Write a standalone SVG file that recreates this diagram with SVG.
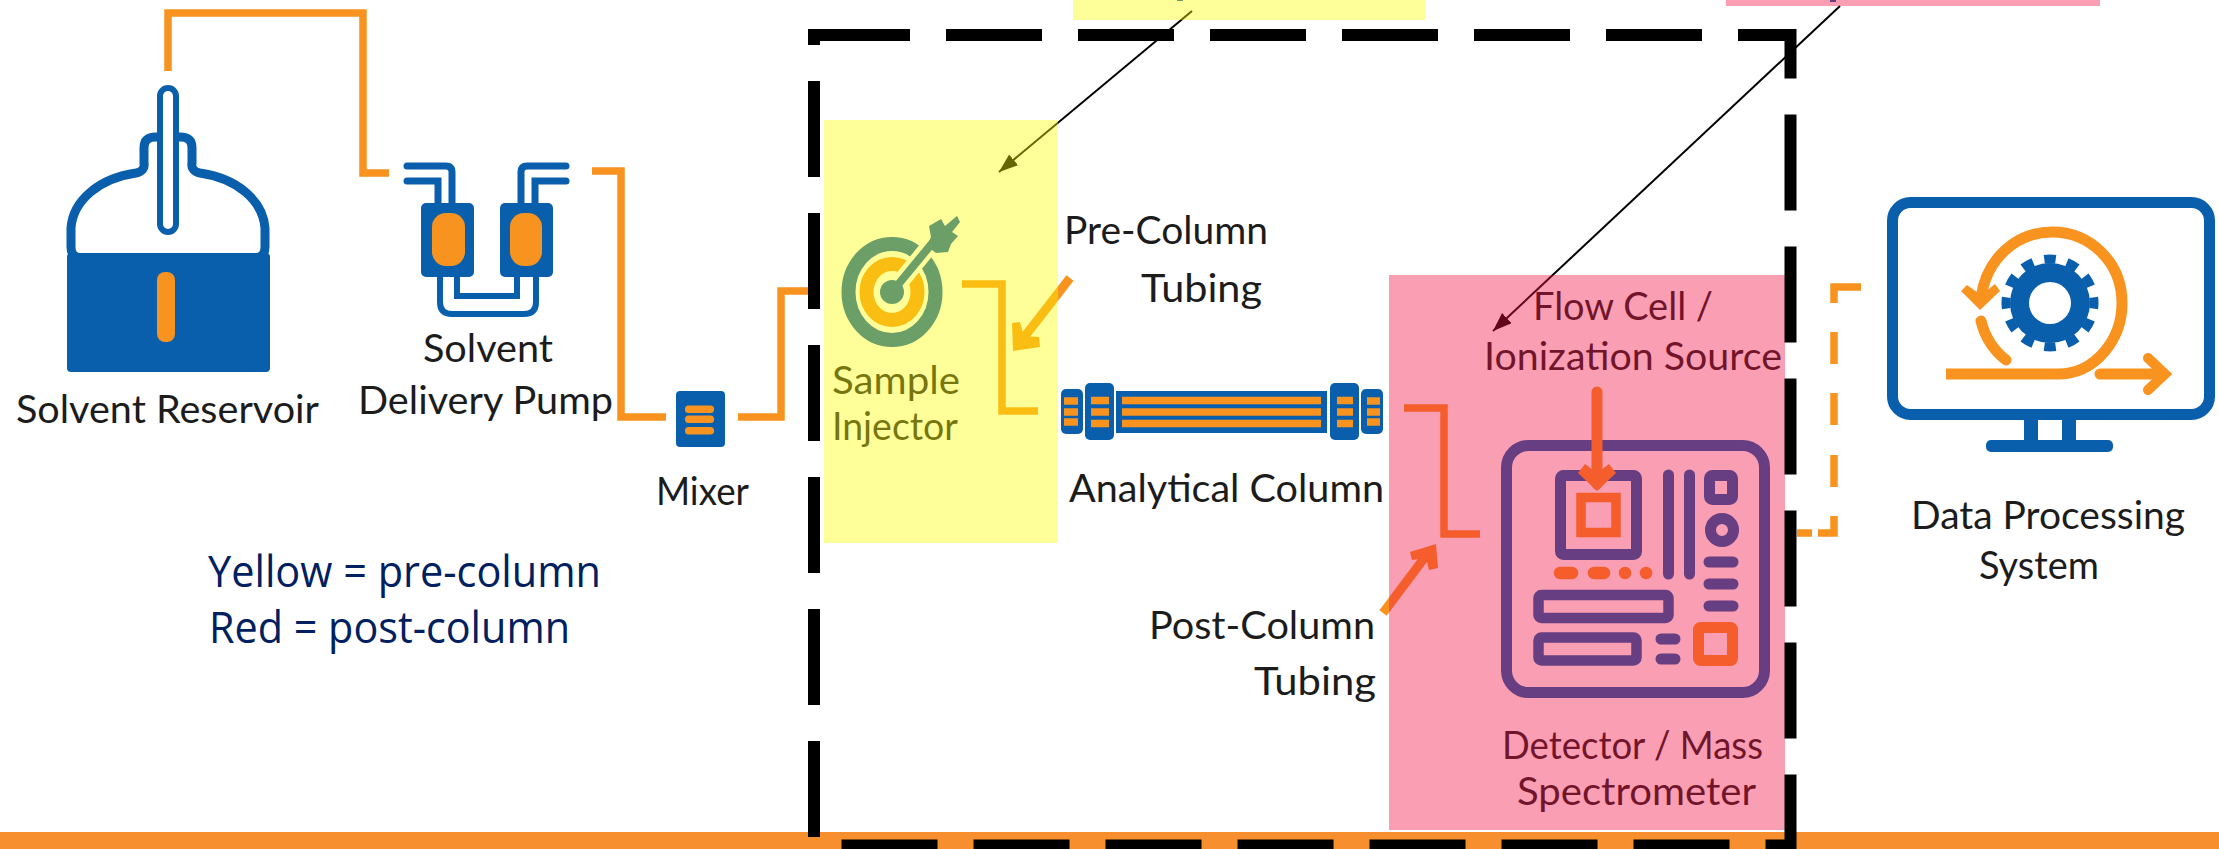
<svg xmlns="http://www.w3.org/2000/svg" width="2219" height="849" viewBox="0 0 2219 849">
<defs>
<style>
text{font-family:"Lato","Open Sans","Liberation Sans",sans-serif;font-size:38px;fill:#1c1c1c}
.legend{font-family:"Open Sans","Liberation Sans",sans-serif;font-size:43px;fill:#002060}
.tube{fill:none;stroke:#f7931e;stroke-width:7.5;stroke-linejoin:miter}
.blue{fill:#0a5fad}
.org{fill:#f7931e}
.bl{fill:none;stroke:#0a5fad}
.ol{fill:none;stroke:#f7931e}
.ptr{stroke:#000;stroke-width:2;fill:none;marker-end:url(#ah)}
</style>
<marker id="ah" markerUnits="userSpaceOnUse" markerWidth="20" markerHeight="16" refX="19" refY="7" orient="auto"><path d="M0 0L19 7L0 14Z" fill="#000"/></marker>
</defs>
<rect width="2219" height="849" fill="#fff"/>
<rect id="orange-band" x="0" y="832" width="2219" height="17" fill="#f78f2e"/>

<g id="reservoir">
<path d="M71 247V228C73 200 100 178 136 173C142 172 145 168 144 163V148C144 140 148 137 156 137H180C188 137 192 140 192 148V163C191 168 194 172 200 173C236 178 263 200 265 228V247Q265 258 254 258H82Q71 258 71 247Z" fill="#fff" stroke="#0a5fad" stroke-width="9"/>
<rect class="blue" x="67" y="253" width="203" height="119" rx="4"/>
<rect x="160" y="88" width="16" height="144" rx="8" fill="#fff" stroke="#0a5fad" stroke-width="6"/>
<rect class="org" x="157" y="272" width="18" height="70" rx="8"/>
<text x="16" y="423" textLength="303" lengthAdjust="spacingAndGlyphs">Solvent Reservoir</text>
</g>

<g id="pump">
<path class="bl" stroke-width="7" stroke-linecap="round" d="M407 166H446Q452 166 452 172V205M407 181H438V205M566 166H527Q521 166 521 172V205M566 181H535V205"/>
<path class="bl" stroke-width="6" d="M457 275V296H517V275M440 275V302Q440 314 452 314H524Q536 314 536 302V275"/>
<rect class="blue" x="421" y="203" width="53" height="74" rx="5"/>
<rect class="blue" x="500" y="203" width="53" height="74" rx="5"/>
<rect class="org" x="432" y="213" width="33" height="53" rx="14"/>
<rect class="org" x="510" y="213" width="32" height="53" rx="14"/>
<text x="423" y="362" textLength="130" lengthAdjust="spacingAndGlyphs">Solvent</text>
<text x="358" y="414" textLength="255" lengthAdjust="spacingAndGlyphs">Delivery Pump</text>
</g>

<g id="mixer">
<rect class="blue" x="676" y="391" width="49" height="56" rx="4"/>
<rect class="org" x="685" y="405.500" width="29" height="7.500" rx="3.500"/>
<rect class="org" x="685" y="415.500" width="29" height="7.500" rx="3.500"/>
<rect class="org" x="685" y="427" width="29" height="7.500" rx="3.500"/>
<text x="656" y="505" textLength="93" lengthAdjust="spacingAndGlyphs">Mixer</text>
</g>

<g id="injector">
<ellipse class="bl" cx="892" cy="292" rx="43.500" ry="48" stroke-width="14"/>
<ellipse class="ol" cx="892" cy="292" rx="25.500" ry="28" stroke-width="14"/>
<path d="M892 292L932 243" stroke="#fff" stroke-width="17" fill="none"/>
<circle class="blue" cx="892" cy="292" r="12"/>
<path class="bl" stroke-width="8" d="M892 292L934 241"/>
<path class="blue" d="M929 226L941 219L945 226L957 216L960 222L952 232L958 236L951 244L948 252L936 253L927 246L931 237Z"/>
<text x="832" y="394" textLength="128" lengthAdjust="spacingAndGlyphs">Sample</text>
<text x="832" y="440" textLength="126" lengthAdjust="spacingAndGlyphs">Injector</text>
</g>

<g id="column">
<rect class="blue" x="1061" y="389" width="22" height="45" rx="5"/>
<rect class="blue" x="1085" y="383" width="29" height="57" rx="5"/>
<rect class="blue" x="1116" y="391" width="211" height="42"/>
<rect class="blue" x="1330" y="383" width="29" height="57" rx="5"/>
<rect class="blue" x="1361" y="389" width="22" height="45" rx="5"/>
<path class="ol" stroke-width="7.500" d="M1122 400.500H1321M1122 412H1321M1122 423.500H1321M1091 400.500H1109M1091 412H1109M1091 423.500H1109M1337 400.500H1353M1337 412H1353M1337 423.500H1353M1064 401H1078M1064 412H1078M1064 422H1078M1367 401H1380M1367 412H1380M1367 422H1380"/>
<text x="1069" y="502" textLength="315" lengthAdjust="spacingAndGlyphs">Analytical Column</text>
</g>

<g id="detector">
<rect class="bl" x="1506.500" y="445.500" width="258" height="247" rx="22" stroke-width="11"/>
<rect class="bl" x="1560.500" y="475.500" width="76" height="79" rx="3" stroke-width="11"/>
<rect class="ol" x="1581" y="497.500" width="35" height="35" stroke-width="9.500"/>
<path class="bl" stroke-width="11" stroke-linecap="round" d="M1668.500 475V574M1689.500 475V574M1709 562H1733M1709 584H1733M1709 606H1733M1661 639H1675M1661 659H1675"/>
<rect class="bl" x="1709.500" y="475.500" width="23" height="24" rx="3" stroke-width="11"/>
<circle class="bl" cx="1722" cy="530" r="11.500" stroke-width="11"/>
<path class="ol" stroke-width="12.500" stroke-linecap="round" d="M1560 573H1572M1594 573H1604M1625 573H1625.100M1646 573H1646.100"/>
<rect class="bl" x="1538.500" y="595" width="130" height="23" rx="3" stroke-width="10.500"/>
<rect class="bl" x="1538.500" y="637.500" width="98" height="23" rx="3" stroke-width="10.500"/>
<rect class="ol" x="1698.500" y="627.500" width="34" height="33" rx="2" stroke-width="11"/>
<text x="1502" y="759" textLength="261" lengthAdjust="spacingAndGlyphs">Detector / Mass</text>
<text x="1517" y="805" textLength="239" lengthAdjust="spacingAndGlyphs">Spectrometer</text>
<text x="1533" y="320" textLength="180" lengthAdjust="spacingAndGlyphs">Flow Cell /</text>
<text x="1484" y="370" textLength="298" lengthAdjust="spacingAndGlyphs">Ionization Source</text>
<path class="ol" stroke-width="11" stroke-linecap="round" d="M1597 392V484"/>
<path class="org" d="M1597 491L1578 473L1585 464L1597 473L1609 464L1616 473Z"/>
</g>

<g id="data-system">
<rect class="bl" x="1892.500" y="202.500" width="317" height="212" rx="18" stroke-width="11"/>
<rect class="blue" x="2024" y="418" width="14" height="26"/>
<rect class="blue" x="2062" y="418" width="14" height="26"/>
<rect class="blue" x="1986" y="440" width="127" height="12" rx="5"/>
<circle class="blue" cx="2050" cy="303" r="40"/>
<circle class="bl" cx="2050" cy="303" r="44" stroke-width="9" pathLength="24" stroke-dasharray="1 1" stroke-dashoffset="0.5"/>
<circle cx="2050" cy="303" r="21" fill="#fff"/>
<path class="ol" stroke-width="11" d="M1946 374H2058C2095 374 2122 340 2122 303C2122 262 2090 232 2052 232C2015 232 1986 260 1981 298"/>
<path class="org" d="M1980 310L1961 291L1967 285L1981 295L1995 284L2000 291Z"/>
<path class="ol" stroke-width="11" stroke-linecap="round" d="M1981 321C1985 337 1993 350 2006 360M2100 374H2164"/>
<path class="ol" stroke-width="10" stroke-linecap="round" stroke-linejoin="miter" d="M2148 358L2165 374L2148 390"/>
<text x="1911" y="529" textLength="274" lengthAdjust="spacingAndGlyphs">Data Processing</text>
<text x="1979" y="579" textLength="120" lengthAdjust="spacingAndGlyphs">System</text>
</g>

<g id="legend">
<text class="legend" x="208" y="587" textLength="393" lengthAdjust="spacingAndGlyphs">Yellow = pre-column</text>
<text class="legend" x="209" y="643" textLength="361" lengthAdjust="spacingAndGlyphs">Red = post-column</text>
</g>

<g id="tubing-labels">
<text x="1064" y="244" textLength="204" lengthAdjust="spacingAndGlyphs">Pre-Column</text>
<text x="1141" y="302" textLength="121" lengthAdjust="spacingAndGlyphs">Tubing</text>
<text x="1149" y="639" textLength="226" lengthAdjust="spacingAndGlyphs">Post-Column</text>
<text x="1254" y="695" textLength="122" lengthAdjust="spacingAndGlyphs">Tubing</text>
</g>

<g id="connectors">
<path class="tube" d="M168 71V13H363V173H389"/>
<path class="tube" d="M592 171H621V417H666"/>
<path class="tube" d="M738 417H781V291H808"/>
<path class="tube" d="M962 284H1002V411H1038"/>
<path class="tube" d="M1404 408H1444V534H1480"/>
<path class="tube" d="M1861 287H1834V303M1834 332V364M1834 393V425M1834 455V487M1834 516V533H1818M1812 533H1797"/>
<path class="ol" stroke-width="9" d="M1070 278L1022 340"/>
<path class="org" d="M1013 351L1012 323L1020 322L1024 336L1039 337L1040 347Z"/>
<path class="ol" stroke-width="9" d="M1383 613L1428 553"/>
<path class="org" d="M1436 544L1438 568L1429 570L1426 558L1412 560L1410 552Z"/>
<line class="ptr" x1="1192" y1="11" x2="999" y2="172"/>
<line class="ptr" x1="1840" y1="6" x2="1493" y2="331"/>
</g>

<g id="overlays">
<rect x="1177" y="0" width="6" height="1" fill="#0a5fad"/>
<rect x="1830" y="0" width="6" height="2" fill="#0a5fad"/>
<rect x="824" y="120" width="234" height="423" fill="#ffff00" fill-opacity="0.4"/>
<rect x="1073" y="0" width="352" height="20" fill="#ffff00" fill-opacity="0.4"/>
<rect x="1389" y="275" width="396" height="555" fill="#f20c41" fill-opacity="0.4"/>
<rect x="1726" y="0" width="374" height="6" fill="#f20c41" fill-opacity="0.4"/>
</g>

<rect id="boundary" x="814" y="35" width="976.500" height="810.500" fill="none" stroke="#000" stroke-width="12" stroke-dasharray="96 36"/>
</svg>
